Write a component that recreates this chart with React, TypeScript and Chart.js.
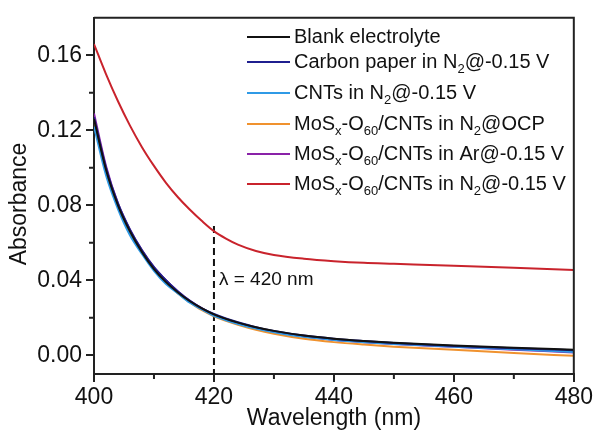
import React, { useEffect, useRef } from "react";
import { Chart, registerables } from "chart.js";

Chart.register(...registerables);

const WAVELENGTH = [400, 402, 404, 406, 408, 410, 412, 414, 416, 418, 420, 422, 424, 427, 430, 435, 440, 445, 450, 460, 470, 480];

const BLANK = [0.126, 0.099, 0.080, 0.066, 0.055, 0.046, 0.039, 0.0335, 0.0288, 0.025, 0.0218, 0.0194, 0.0174, 0.0149, 0.013, 0.0105, 0.0088, 0.0076, 0.0067, 0.0052, 0.0040, 0.0030];
const CARBON_PAPER = [0.127, 0.100, 0.081, 0.067, 0.056, 0.047, 0.040, 0.034, 0.029, 0.025, 0.022, 0.0196, 0.0176, 0.015, 0.013, 0.0105, 0.0088, 0.0076, 0.0066, 0.0050, 0.0037, 0.0027];
const CNTS = [0.122, 0.096, 0.078, 0.064, 0.054, 0.045, 0.038, 0.033, 0.028, 0.0245, 0.021, 0.0187, 0.0167, 0.0142, 0.0123, 0.0098, 0.0082, 0.0070, 0.0060, 0.0046, 0.0032, 0.0018];
const MOS_OCP = [0.126, 0.099, 0.080, 0.066, 0.055, 0.046, 0.039, 0.033, 0.0282, 0.024, 0.0208, 0.0184, 0.0163, 0.0136, 0.0115, 0.0088, 0.0070, 0.0057, 0.0046, 0.0030, 0.0012, -0.0003];
const MOS_AR = [0.129, 0.101, 0.081, 0.067, 0.056, 0.047, 0.040, 0.034, 0.029, 0.025, 0.0215, 0.019, 0.017, 0.0145, 0.0125, 0.010, 0.0082, 0.0070, 0.0060, 0.0045, 0.0030, 0.0015];
const MOS_N2 = [0.166, 0.150, 0.1355, 0.1225, 0.111, 0.101, 0.092, 0.0843, 0.0776, 0.0716, 0.0662, 0.0622, 0.059, 0.0556, 0.0535, 0.0515, 0.0502, 0.0493, 0.0488, 0.0478, 0.0467, 0.0455];

// "_" marks a subscript run
const LABELS = [
  "Blank electrolyte",
  "Carbon paper in N_2@-0.15 V",
  "CNTs in N_2@-0.15 V",
  "MoS_x-O_60/CNTs in N_2@OCP",
  "MoS_x-O_60/CNTs in Ar@-0.15 V",
  "MoS_x-O_60/CNTs in N_2@-0.15 V",
];
const SERIES = [BLANK, CARBON_PAPER, CNTS, MOS_OCP, MOS_AR, MOS_N2];
const COLORS = ["#111111", "#1f1f8f", "#2f9ae6", "#f0922e", "#8a22a8", "#c9232c"];

const X_TICKS = [400, 420, 440, 460, 480];
const X_MINOR = [410, 430, 450, 470];
const Y_TICKS = [0.0, 0.04, 0.08, 0.12, 0.16];
const Y_MINOR = [0.02, 0.06, 0.1, 0.14];
const MARKER_X = 420;
const MARKER_TOP = 0.069;
const MARKER_LABEL = "λ = 420 nm";
const X_TITLE = "Wavelength (nm)";
const Y_TITLE = "Absorbance";

const FONT = "'Liberation Sans', Arial, sans-serif";
const AXIS = "#222222";

function parseLabel(s: string) {
  const parts: { t: string; sub: boolean }[] = [];
  const re = /_([A-Za-z0-9]+)/g;
  let last = 0;
  let m: RegExpExecArray | null;
  while ((m = re.exec(s))) {
    if (m.index > last) parts.push({ t: s.slice(last, m.index), sub: false });
    parts.push({ t: m[1], sub: true });
    last = m.index + m[0].length;
  }
  if (last < s.length) parts.push({ t: s.slice(last), sub: false });
  return parts;
}

const decor = {
  id: "decor",
  beforeDatasetsDraw(chart: any) {
    const { ctx, chartArea, scales } = chart;
    const px = scales.x.getPixelForValue(MARKER_X);
    ctx.save();
    ctx.strokeStyle = "#111";
    ctx.lineWidth = 2;
    ctx.setLineDash([7, 4]);
    ctx.beginPath();
    ctx.moveTo(px, scales.y.getPixelForValue(MARKER_TOP));
    ctx.lineTo(px, chartArea.bottom);
    ctx.stroke();
    ctx.setLineDash([]);
    ctx.fillStyle = "#111";
    ctx.font = `19px ${FONT}`;
    ctx.textBaseline = "middle";
    ctx.textAlign = "left";
    ctx.fillText(MARKER_LABEL, px + 5, scales.y.getPixelForValue(0.04));
    ctx.restore();
  },
  afterDraw(chart: any) {
    const { ctx, chartArea, scales } = chart;
    const { left, right, top, bottom } = chartArea;
    ctx.save();
    ctx.strokeStyle = AXIS;
    ctx.lineWidth = 2;
    ctx.beginPath();
    ctx.moveTo(left, top);
    ctx.lineTo(right, top);
    ctx.lineTo(right, bottom);
    ctx.stroke();
    ctx.beginPath();
    X_MINOR.forEach((v) => {
      const p = scales.x.getPixelForValue(v);
      ctx.moveTo(p, bottom);
      ctx.lineTo(p, bottom + 5);
    });
    Y_MINOR.forEach((v) => {
      const p = scales.y.getPixelForValue(v);
      ctx.moveTo(left, p);
      ctx.lineTo(left - 5, p);
    });
    ctx.stroke();

    // axis titles
    ctx.fillStyle = "#111";
    ctx.font = `23px ${FONT}`;
    ctx.textAlign = "center";
    ctx.textBaseline = "middle";
    ctx.fillText(X_TITLE, (left + right) / 2, 419);
    ctx.save();
    ctx.translate(20, 204);
    ctx.rotate(-Math.PI / 2);
    ctx.fillText(Y_TITLE, 0, 0);
    ctx.restore();

    // legend
    const rows = [37, 62, 93, 124, 154, 184];
    ctx.textAlign = "left";
    LABELS.forEach((lab, i) => {
      const y = rows[i];
      ctx.strokeStyle = COLORS[i];
      ctx.lineWidth = 2;
      ctx.beginPath();
      ctx.moveTo(247, y);
      ctx.lineTo(290, y);
      ctx.stroke();
      let x = 294;
      parseLabel(lab).forEach((p) => {
        ctx.font = p.sub ? `13px ${FONT}` : `20px ${FONT}`;
        ctx.fillStyle = "#111";
        ctx.fillText(p.t, x, p.sub ? y + 7 : y);
        x += ctx.measureText(p.t).width;
      });
    });
    ctx.restore();
  },
};

export default function App() {
  const ref = useRef<HTMLCanvasElement | null>(null);
  useEffect(() => {
    if (!ref.current) return;
    const chart = new Chart(ref.current, {
      type: "line",
      data: {
        datasets: SERIES.map((s, i) => ({
          label: LABELS[i].replace(/_/g, ""),
          data: WAVELENGTH.map((w, j) => ({ x: w, y: s[j] })),
          borderColor: COLORS[i],
          borderWidth: 2,
          pointRadius: 0,
          fill: false,
          cubicInterpolationMode: "monotone" as const,
        })),
      },
      options: {
        animation: false,
        responsive: false,
        maintainAspectRatio: false,
        layout: { padding: { left: 0, right: 21, top: 16, bottom: 0 } },
        plugins: { legend: { display: false }, tooltip: { enabled: false } },
        scales: {
          x: {
            type: "linear",
            min: 400,
            max: 480,
            afterBuildTicks: (s: any) => {
              s.ticks = X_TICKS.map((v) => ({ value: v }));
            },
            afterFit: (s: any) => {
              s.height = 60;
            },
            grid: { drawOnChartArea: false, drawTicks: true, tickLength: 8, color: AXIS, lineWidth: 2 },
            border: { display: true, color: AXIS, width: 2 },
            ticks: { color: "#111", font: { family: FONT, size: 23 }, padding: 2, maxRotation: 0 },
          },
          y: {
            type: "linear",
            min: -0.01,
            max: 0.18,
            afterBuildTicks: (s: any) => {
              s.ticks = Y_TICKS.map((v) => ({ value: v }));
            },
            afterFit: (s: any) => {
              s.width = 94;
            },
            grid: { drawOnChartArea: false, drawTicks: true, tickLength: 8, color: AXIS, lineWidth: 2 },
            border: { display: true, color: AXIS, width: 2 },
            ticks: {
              color: "#111",
              font: { family: FONT, size: 23 },
              padding: 4,
              callback: (v: any) => Number(v).toFixed(2),
            },
          },
        },
      },
      plugins: [decor],
    });
    return () => chart.destroy();
  }, []);
  return (
    <div style={{ position: "fixed", left: 0, top: 0, width: 595, height: 434, background: "#fff" }}>
      <canvas ref={ref} width={595} height={434} style={{ width: 595, height: 434 }} />
    </div>
  );
}
